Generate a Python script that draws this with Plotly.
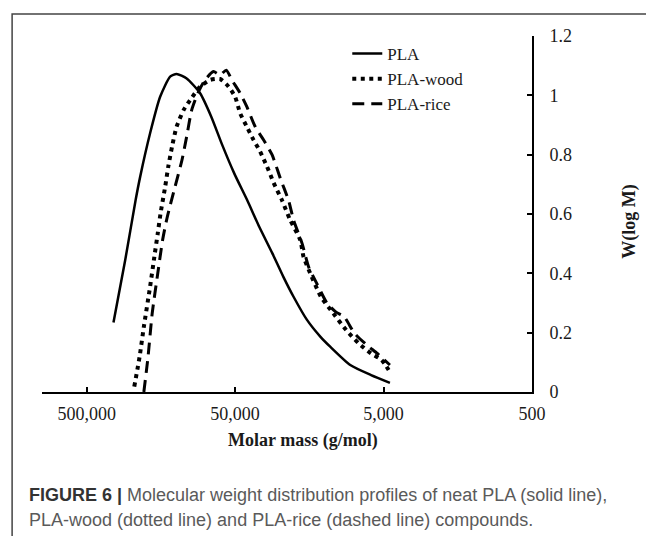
import numpy as np
import plotly.graph_objects as go

# molar mass (g/mol) and W(log M)
pla_mass = [330000, 275000, 234000, 218000, 187000, 160000, 137000, 124000, 106000,
            86100, 72400, 61100, 50700, 41500, 34400, 28100, 23700, 20200, 16400,
            13300, 11400, 8380, 6070, 4530]
pla_w = [0.234, 0.445, 0.647, 0.726, 0.872, 0.995, 1.063, 1.072, 1.057,
         1.007, 0.928, 0.833, 0.737, 0.647, 0.557, 0.468, 0.389, 0.321, 0.243,
         0.186, 0.152, 0.091, 0.057, 0.031]

wood_mass = [239000, 220000, 206000, 187000, 175000, 166000, 159000, 148000, 141000,
             133000, 124000, 111000, 100500, 86100, 73600, 63100, 55500, 50000,
             46200, 41700, 37600, 33900, 30500, 27500, 24200, 21300, 18200, 17300,
             15600, 13200, 10900, 8930, 7360, 6070, 5150, 4620]
wood_w = [0.018, 0.119, 0.220, 0.355, 0.456, 0.535, 0.602, 0.692, 0.760,
          0.827, 0.894, 0.951, 0.984, 1.029, 1.052, 1.055, 1.030, 0.995,
          0.939, 0.894, 0.850, 0.810, 0.760, 0.705, 0.647, 0.580, 0.512, 0.456,
          0.400, 0.321, 0.265, 0.209, 0.164, 0.130, 0.108, 0.074]

rice_mass = [206000, 193000, 181000, 166000, 154000, 144000, 127000, 114000, 106000,
             98000, 88300, 79600, 70000, 63100, 57400, 52600, 46200, 41700, 36600,
             32200, 28200, 24800, 21800, 20200, 17700, 16000, 14100, 12000, 10500,
             9230, 7850, 6470, 5510, 4530]
rice_w = [0.0, 0.119, 0.265, 0.400, 0.512, 0.585, 0.692, 0.782, 0.861,
          0.951, 1.012, 1.052, 1.080, 1.069, 1.085, 1.052, 1.007, 0.962, 0.894,
          0.850, 0.800, 0.720, 0.645, 0.580, 0.501, 0.422, 0.366, 0.299, 0.27,
          0.254, 0.198, 0.158, 0.130, 0.091]

x_ticks = [500000, 50000, 5000, 500]
x_ticktext = ['500,000', '50,000', '5,000', '500']

serif = 'Liberation Serif'
ink = '#1a1a1a'

fig = go.Figure()
fig.add_trace(go.Scatter(x=pla_mass, y=pla_w, mode='lines', name='PLA',
                         line=dict(color='black', width=2.5, shape='spline', smoothing=0.6)))
fig.add_trace(go.Scatter(x=wood_mass, y=wood_w, mode='lines', name='PLA-wood',
                         line=dict(color='black', width=4, dash='4px,4.5px',
                                   shape='spline', smoothing=0.6)))
fig.add_trace(go.Scatter(x=rice_mass, y=rice_w, mode='lines', name='PLA-rice',
                         line=dict(color='black', width=3, dash='12px,7px',
                                   shape='spline', smoothing=0.6)))

# page body adds an 8px offset, so margins are shifted by that amount
fig.update_layout(
    width=654, height=536,
    margin=dict(l=34, r=130, t=28, b=152),
    paper_bgcolor='white', plot_bgcolor='white',
    font=dict(family=serif, size=18, color=ink),
    legend=dict(x=0.623, y=1.0, xanchor='left', yanchor='top',
                bgcolor='rgba(0,0,0,0)', font=dict(family=serif, size=17, color=ink),
                tracegroupgap=0),
    xaxis=dict(type='log', range=[6, np.log10(500)], tickvals=x_ticks,
               ticktext=x_ticktext, ticks='inside', ticklen=5, tickwidth=1.5,
               tickcolor='black', showline=True, linecolor='black', linewidth=2,
               showgrid=False, zeroline=False, ticklabelstandoff=4,
               tickfont=dict(family=serif, size=18, color=ink)),
    yaxis=dict(range=[0, 1.2], dtick=0.2, side='right', ticks='inside',
               ticklen=5, tickwidth=1.5, tickcolor='black', showline=True,
               linecolor='black', linewidth=2, showgrid=False, zeroline=False,
               ticklabelstandoff=12,
               tickfont=dict(family=serif, size=18, color=ink)),
)

fig.add_annotation(text='<b>Molar mass (g/mol)</b>', xref='paper', yref='paper',
                   x=0.533, y=-0.135, xanchor='center', yanchor='middle',
                   showarrow=False, font=dict(family=serif, size=18, color=ink))
fig.add_annotation(text='<b>W(log M)</b>', xref='paper', yref='paper',
                   x=1.2, y=0.478, xanchor='center', yanchor='middle',
                   textangle=-90, showarrow=False,
                   font=dict(family=serif, size=18, color=ink))

# caption
fig.add_annotation(text='<b style="color:#333">FIGURE 6 |</b> Molecular weight distribution profiles of neat PLA (solid line),',
                   xref='paper', yref='paper', x=-0.031, y=-0.289,
                   xanchor='left', yanchor='middle', showarrow=False,
                   font=dict(family='Liberation Sans', size=18, color='#5a5a5a'))
fig.add_annotation(text='PLA-wood (dotted line) and PLA-rice (dashed line) compounds.',
                   xref='paper', yref='paper', x=-0.031, y=-0.36,
                   xanchor='left', yanchor='middle', showarrow=False,
                   font=dict(family='Liberation Sans', size=18, color='#5a5a5a'))

# figure frame
fig.add_shape(type='rect', xref='paper', yref='paper', x0=-0.061, x1=1.5,
              y0=-0.6, y1=1.062, line=dict(color='#444444', width=1.5))

fig.write_html('out.html')
